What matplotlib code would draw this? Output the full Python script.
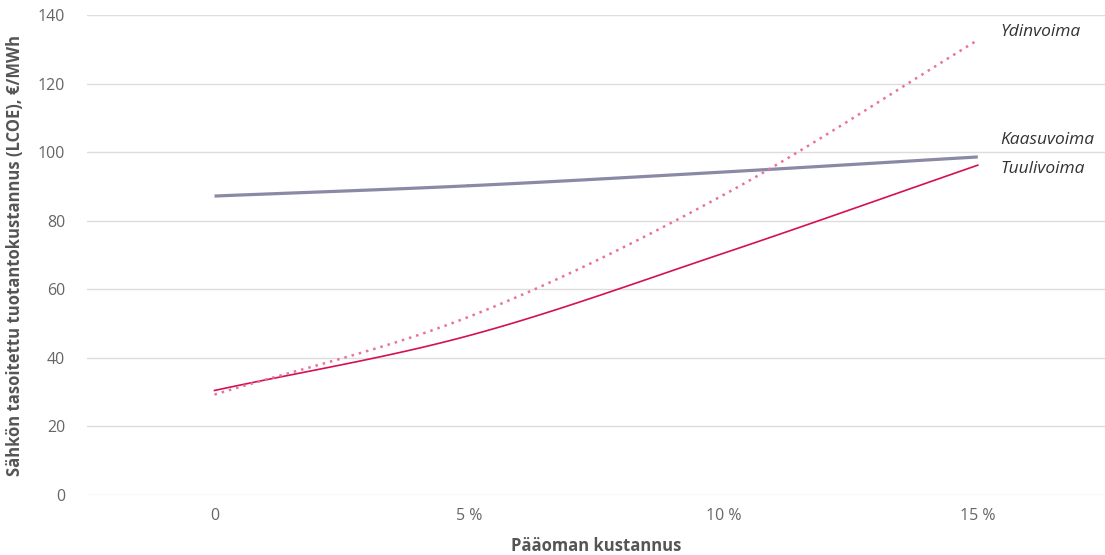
import numpy as np
import matplotlib.pyplot as plt

# pääoman kustannus (%) ja sähkön tasoitettu tuotantokustannus (€/MWh)
korko = [0, 5, 10, 15]
korko_labels = ['0', '5 %', '10 %', '15 %']
kaasuvoima = [87.2, 90.2, 94.2, 98.6]
tuulivoima = [30.5, 46.5, 70.5, 96.2]
ydinvoima = [29.3, 52.0, 87.5, 132.7]


def spline(x, y, n=30):
    """Catmull-Rom -käyrä pisteiden läpi, jotta viivat piirtyvät pehmeinä."""
    x = np.asarray(x, float)
    y = np.asarray(y, float)
    px = np.concatenate([[2 * x[0] - x[1]], x, [2 * x[-1] - x[-2]]])
    py = np.concatenate([[2 * y[0] - y[1]], y, [2 * y[-1] - y[-2]]])
    xs, ys = [], []
    for i in range(1, len(px) - 2):
        t = np.linspace(0, 1, n)
        for p, out in ((px, xs), (py, ys)):
            p0, p1, p2, p3 = p[i - 1], p[i], p[i + 1], p[i + 2]
            out.append(0.5 * (2 * p1 + (-p0 + p2) * t
                              + (2 * p0 - 5 * p1 + 4 * p2 - p3) * t ** 2
                              + (-p0 + 3 * p1 - 3 * p2 + p3) * t ** 3))
    return np.concatenate(xs), np.concatenate(ys)


plt.rcParams['font.family'] = ['Open Sans', 'DejaVu Sans']

fig = plt.figure(figsize=(11.05, 5.55), dpi=100)
ax = fig.add_axes([0.079, 0.108, 0.921, 0.865])

ax.plot(*spline(korko, kaasuvoima), color='#8a8aa6', lw=2.3, solid_capstyle='butt')
ax.plot(*spline(korko, tuulivoima), color='#d3124e', lw=1.2)
ax.plot(*spline(korko, ydinvoima), color='#e9719b', lw=1.8, linestyle=(0, (1, 2)))

lbl = dict(textcoords='offset points', fontsize=12.5, style='italic', color='#333333',
           va='center', ha='left')
ax.annotate('Ydinvoima', (korko[-1], ydinvoima[-1]), xytext=(16, 6), **lbl)
ax.annotate('Kaasuvoima', (korko[-1], kaasuvoima[-1]), xytext=(16, 12), **lbl)
ax.annotate('Tuulivoima', (korko[-1], tuulivoima[-1]), xytext=(16, -3), **lbl)

ax.set_xlim(-2.5, 17.5)
ax.set_ylim(0, 140)
ax.set_yticks(range(0, 141, 20))
ax.set_xticks(korko)
ax.set_xticklabels(korko_labels)
ax.grid(axis='y', color='#dddddd', lw=1)
ax.set_axisbelow(True)
for s in ax.spines.values():
    s.set_visible(False)
ax.tick_params(length=0, labelsize=11.5, labelcolor='#666666')
ax.tick_params(axis='y', pad=16)
ax.tick_params(axis='x', pad=9)

ax.set_xlabel('Pääoman kustannus', fontsize=12, fontweight='bold', color='#555555',
              labelpad=10)
ax.set_ylabel('Sähkön tasoitettu tuotantokustannus (LCOE), €/MWh', fontsize=12,
              fontweight='bold', color='#555555', labelpad=10)

fig.savefig('out.png', dpi=100)
